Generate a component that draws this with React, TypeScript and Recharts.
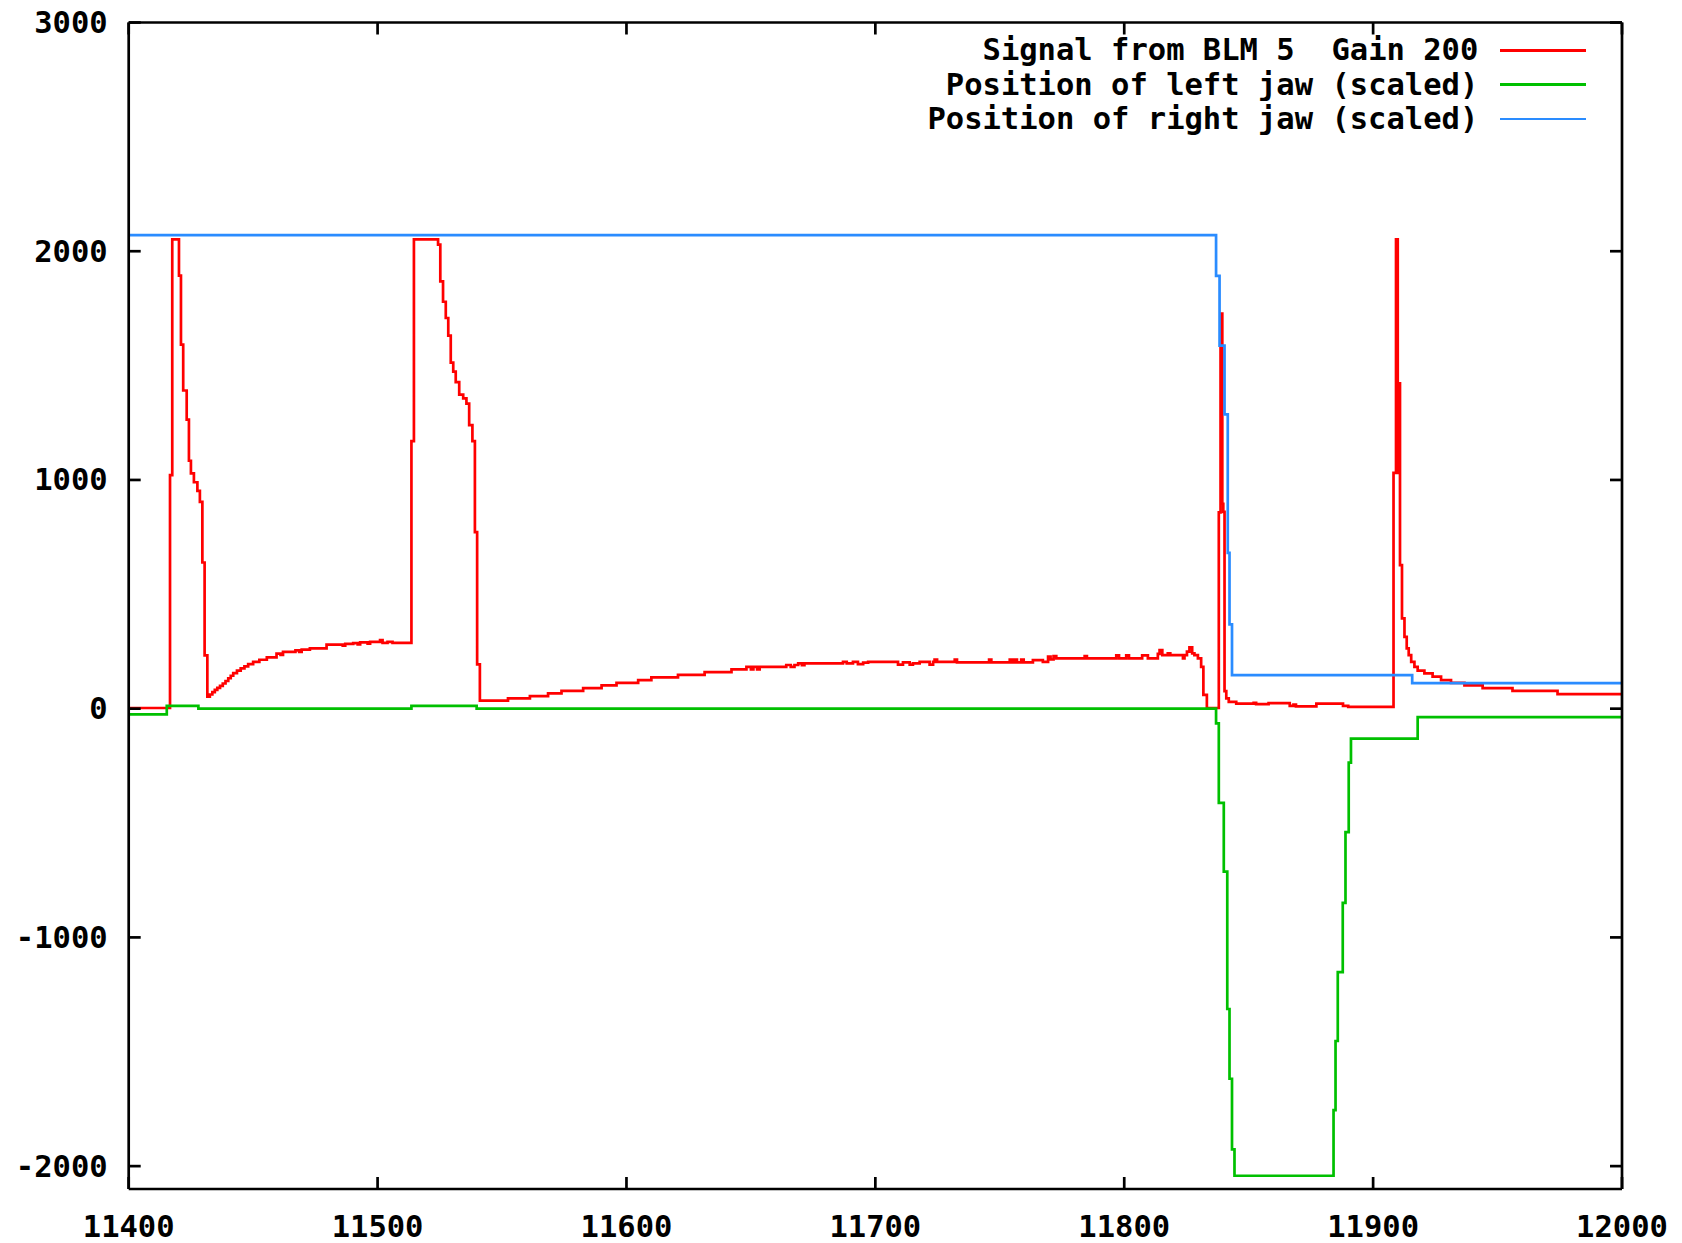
import React from 'react';
import { LineChart, Line, XAxis, YAxis, Legend } from 'recharts';

const xTicks = [11400, 11500, 11600, 11700, 11800, 11900, 12000];
const yTicks = [-2000, -1000, 0, 1000, 2000, 3000];

const seriesNames = [
  'Signal from BLM 5  Gain 200',
  'Position of left jaw (scaled)',
  'Position of right jaw (scaled)',
];
const seriesColors = ['#ff0000', '#00c000', '#2a8cff'];

const signalTime = [
  11400, 11416.6, 11417.5, 11420.2, 11421.0, 11421.9, 11423.3, 11424.2, 11425.0, 11426.2,
  11427.6, 11428.6, 11429.6, 11430.5, 11431.6, 11432.6, 11433.6, 11434.6, 11435.6, 11436.7,
  11437.8, 11438.9, 11440.0, 11441.0, 11442.0, 11443.5, 11445.0, 11446.5, 11448.0, 11450.0,
  11452.5, 11455.5, 11459.4, 11461.0, 11462.0, 11467.0, 11468.5, 11469.5, 11472.8, 11479.5,
  11486.0, 11487.0, 11490.2, 11492.0, 11493.0, 11496.0, 11497.0, 11501.0, 11502.0, 11504.0,
  11506.0, 11513.6, 11514.6, 11524.3, 11525.2, 11526.3, 11527.4, 11528.4, 11529.4, 11530.4,
  11531.4, 11532.8, 11534.4, 11535.7, 11536.8, 11538.1, 11539.1, 11540.0, 11541.1, 11552.4,
  11561.2, 11568.5, 11573.9, 11582.6, 11590.0, 11596.0, 11604.7, 11610.0, 11620.7, 11631.4,
  11642.2, 11648.2, 11650.0, 11651.0, 11652.5, 11653.5, 11664.2, 11666.0, 11667.5, 11669.0,
  11670.5, 11671.5, 11687.0, 11688.5, 11691.0, 11693.0, 11695.1, 11697.1, 11709.1, 11711.1,
  11713.8, 11715.1, 11717.8, 11721.8, 11723.2, 11723.8, 11724.8, 11731.9, 11732.8, 11745.7,
  11746.6, 11754.0, 11755.0, 11756.0, 11756.9, 11758.6, 11759.6, 11763.3, 11767.3, 11769.4,
  11770.4, 11771.6, 11772.7, 11784.1, 11785.0, 11796.8, 11797.9, 11800.8, 11801.9, 11807.2,
  11809.5, 11813.5, 11814.2, 11815.3, 11817.5, 11818.5, 11823.6, 11824.2, 11825.2, 11826.2,
  11827.3, 11828.2, 11829.6, 11830.9, 11831.8, 11833.2, 11838.0, 11838.7, 11839.4, 11839.8,
  11840.3, 11841.0, 11842.0, 11845.0, 11852.0, 11853.0, 11858.0, 11866.5, 11868.0, 11869.0,
  11877.2, 11887.9, 11890.0, 11908.2, 11909.2, 11909.9, 11910.2, 11910.5, 11910.8, 11911.6,
  11912.6, 11913.5, 11914.3, 11915.3, 11916.6, 11917.9, 11920.6, 11923.9, 11927.3, 11931.3,
  11936.7, 11944.0, 11956.0, 11974.1, 12000,
];
const signalValue = [
  3, 1021, 2052, 1893, 1592, 1391, 1264, 1084, 1029, 990,
  952, 904, 639, 233, 53, 62, 72, 82, 91, 100,
  110, 121, 133, 144, 155, 166, 176, 185, 195, 205,
  214, 224, 241, 235, 248, 255, 248, 258, 264, 280,
  276, 283, 287, 281, 290, 284, 292, 300, 288, 292,
  288, 1170, 2052, 2029, 1868, 1779, 1708, 1631, 1513, 1474,
  1428, 1373, 1357, 1334, 1240, 1170, 772, 194, 35, 45,
  55, 67, 78, 90, 102, 113, 125, 137, 148, 160,
  172, 183, 172, 183, 172, 183, 191, 183, 191, 198,
  190, 198, 205, 198, 205, 195, 201, 205, 193, 202,
  193, 198, 205, 193, 205, 215, 205, 215, 202, 215,
  202, 215, 202, 215, 202, 215, 202, 212, 205, 228,
  215, 230, 220, 230, 220, 233, 220, 233, 220, 233,
  220, 240, 256, 234, 242, 234, 220, 234, 249, 268,
  242, 234, 220, 183, 60, 3, 858, 1727, 896, 860,
  77, 45, 30, 22, 26, 20, 24, 12, 18, 10,
  22, 12, 8, 1031, 2052, 1422, 1031, 1422, 628, 395,
  314, 264, 234, 205, 183, 166, 154, 140, 125, 113,
  102, 90, 78, 64, 64,
];

const leftJawTime = [
  11400, 11415.3, 11428.0, 11513.6, 11539.8, 11836.9, 11838.0, 11840.0, 11841.4, 11842.3,
  11843.3, 11844.3, 11884.1, 11884.9, 11885.8, 11887.8, 11888.9, 11890.2, 11891.1, 11917.9, 12000,
];
const leftJawValue = [
  -25, 12, 0, 12, 0, -64, -412, -712, -1313, -1618,
  -1927, -2042, -1755, -1453, -1152, -849, -540, -236, -131, -37, -37,
];

const rightJawTime = [11400, 11836.9, 11838.3, 11840.3, 11841.6, 11842.3, 11843.3, 11915.7, 12000];
const rightJawValue = [2070, 1892, 1587, 1287, 681, 369, 147, 112, 112];

const toRows = (t: number[], v: number[]) => t.map((x, i) => ({ t: x, v: v[i] }));
const signalRows = toRows(signalTime, signalValue);
const leftRows = toRows(leftJawTime, leftJawValue);
const rightRows = toRows(rightJawTime, rightJawValue);

const FONT = '"DejaVu Sans Mono", monospace';
const FS = 30.5;
const TICK = 12;
const SW = 2.7;

const BottomTick = (props: any) => {
  const { x, y, payload } = props;
  return (
    <g>
      <line x1={x} y1={y} x2={x} y2={y - TICK} stroke="#000" strokeWidth={SW} />
      <text x={x} y={y + 37} textAnchor="middle" dominantBaseline="central"
        fontFamily={FONT} fontWeight="bold" fontSize={FS} fill="#000">{payload.value}</text>
    </g>
  );
};
const TopTick = (props: any) => {
  const { x, y } = props;
  return <line x1={x} y1={y} x2={x} y2={y + TICK} stroke="#000" strokeWidth={SW} />;
};
const LeftTick = (props: any) => {
  const { x, y, payload } = props;
  return (
    <g>
      <line x1={x} y1={y} x2={x + TICK} y2={y} stroke="#000" strokeWidth={SW} />
      <text x={x - 21} y={y} textAnchor="end" dominantBaseline="central"
        fontFamily={FONT} fontWeight="bold" fontSize={FS} fill="#000">{payload.value}</text>
    </g>
  );
};
const RightTick = (props: any) => {
  const { x, y } = props;
  return <line x1={x} y1={y} x2={x - TICK} y2={y} stroke="#000" strokeWidth={SW} />;
};

const renderLegend = () => (
  <div style={{ width: 1585.5 }}>
    {seriesNames.map((name, i) => (
      <div key={name} style={{ display: 'flex', justifyContent: 'flex-end', alignItems: 'center', height: 34.35 }}>
        <span style={{ fontFamily: FONT, fontWeight: 'bold', fontSize: FS, whiteSpace: 'pre', lineHeight: '34px', color: '#000' }}>{name}</span>
        <span style={{ display: 'inline-block', width: 85.8, height: SW, background: seriesColors[i], marginLeft: 21.4 }} />
      </div>
    ))}
  </div>
);

const axisLine = { stroke: '#000', strokeWidth: SW };

export default function App() {
  return (
    <div style={{ position: 'absolute', left: 0, top: 0, width: 1682, height: 1243, background: '#fff' }}>
      <LineChart width={1682} height={1243} margin={{ top: 22.5, right: 60, bottom: 0, left: 0 }}>
        <XAxis dataKey="t" type="number" domain={[11400, 12000]} ticks={xTicks} interval={0} height={54}
          tickSize={0} tickMargin={0} tickLine={false} axisLine={axisLine} tick={<BottomTick />} allowDataOverflow />
        <XAxis xAxisId="top" orientation="top" mirror dataKey="t" type="number" domain={[11400, 12000]} ticks={xTicks}
          interval={0} tickSize={0} tickMargin={0} tickLine={false} axisLine={axisLine} tick={<TopTick />} allowDataOverflow />
        <YAxis type="number" domain={[-2100, 3000]} ticks={yTicks} interval={0} width={128.7}
          tickSize={0} tickMargin={0} tickLine={false} axisLine={axisLine} tick={<LeftTick />} allowDataOverflow />
        <YAxis yAxisId="right" orientation="right" mirror type="number" domain={[-2100, 3000]} ticks={yTicks} interval={0}
          tickSize={0} tickMargin={0} tickLine={false} axisLine={axisLine} tick={<RightTick />} allowDataOverflow />
        <Legend layout="vertical" align="center" verticalAlign="middle" content={renderLegend}
          wrapperStyle={{ top: 33.2, left: 0, width: 1585.5, height: 103 }} />
        <Line data={signalRows} dataKey="v" name={seriesNames[0]} type="stepAfter" stroke={seriesColors[0]}
          strokeWidth={SW} dot={false} activeDot={false} isAnimationActive={false} />
        <Line data={leftRows} dataKey="v" name={seriesNames[1]} type="stepAfter" stroke={seriesColors[1]}
          strokeWidth={SW} dot={false} activeDot={false} isAnimationActive={false} />
        <Line data={rightRows} dataKey="v" name={seriesNames[2]} type="stepAfter" stroke={seriesColors[2]}
          strokeWidth={SW} dot={false} activeDot={false} isAnimationActive={false} />
      </LineChart>
    </div>
  );
}
